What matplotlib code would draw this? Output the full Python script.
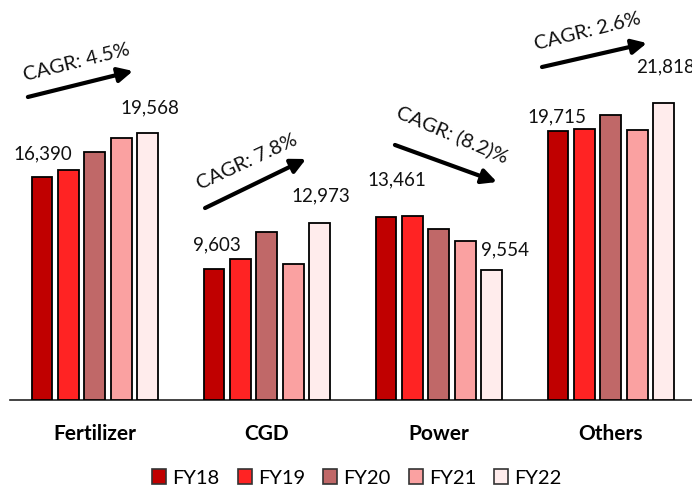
import matplotlib
matplotlib.use("Agg")
import matplotlib.pyplot as plt
import matplotlib.patches as mpatches
import numpy as np

# ── Data ──────────────────────────────────────────────────────────────────────
CATEGORIES = ["Fertilizer", "CGD", "Power", "Others"]
YEARS = ["FY18", "FY19", "FY20", "FY21", "FY22"]

VALUES = {
    "FY18": [16390, 9603, 13461, 19715],
    "FY19": [16880, 10370, 13530, 19890],
    "FY20": [18230, 12310, 12580, 20900],
    "FY21": [19250, 9960, 11700, 19800],
    "FY22": [19568, 12973, 9554, 21818],
}

CAGR_TEXT = ["CAGR: 4.5%", "CAGR: 7.8%", "CAGR: (8.2)%", "CAGR: 2.6%"]

# ── Style ─────────────────────────────────────────────────────────────────────
COLORS = ["#C00000", "#FF2323", "#C06868", "#FAA1A1", "#FFECEC"]
FONT = "Lato"
plt.rcParams["font.family"] = [FONT, "DejaVu Sans"]

BAR_W = 0.122
STEP = 0.154

# label offsets (pixels) for first / last bar of each category
OFF_FIRST = [(1, 23), (3, 24), (11, 37), (-1, 15)]
OFF_LAST = [(2, 26), (1, 27), (13, 20), (2, 36)]

# arrows (tail, head) and text anchors in data coords
ARROWS = [((-0.39, 22240), (0.221, 24150)),
          ((0.64, 14090), (1.227, 17690)),
          ((1.744, 18720), (2.337, 16000)),
          ((2.599, 24440), (3.209, 26200))]
CAGR_POS = [(-0.105, 24740, 14), (0.884, 17500, 25),
            (2.076, 19500, -23), (2.866, 27050, 14)]

# ── Figure ────────────────────────────────────────────────────────────────────
fig = plt.figure(figsize=(6.92, 4.94), dpi=100)
fig.patch.set_facecolor("white")
ax = fig.add_axes([10 / 692, 94 / 494, 688 / 692, 400 / 494])

x = np.arange(len(CATEGORIES))
bars_by_year = []
for i, (yr, col) in enumerate(zip(YEARS, COLORS)):
    b = ax.bar(x + (i - 2) * STEP, VALUES[yr], width=BAR_W, color=col,
               edgecolor="black", linewidth=1.3, label=yr, zorder=3)
    bars_by_year.append(b)

for j in range(len(CATEGORIES)):
    for b, off in ((bars_by_year[0][j], OFF_FIRST[j]), (bars_by_year[-1][j], OFF_LAST[j])):
        ax.annotate(f"{b.get_height():,.0f}",
                    (b.get_x() + b.get_width() / 2, b.get_height()),
                    xytext=off, textcoords="offset pixels",
                    ha="center", va="center", fontsize=13.5, color="#111111")

for (tail, head), (tx, ty, rot), txt in zip(ARROWS, CAGR_POS, CAGR_TEXT):
    ax.annotate("", xy=head, xytext=tail,
                arrowprops=dict(arrowstyle="-|>", color="black", lw=3,
                                mutation_scale=22, shrinkA=0, shrinkB=0))
    ax.text(tx, ty, txt, rotation=rot, ha="center", va="center",
            fontsize=14.5, color="#111111", rotation_mode="anchor")

ax.set_xlim(-0.494, 3.506)
ax.set_ylim(0, 29360)
ax.set_yticks([])
ax.set_xticks(x)
ax.set_xticklabels(CATEGORIES, fontsize=15, fontweight="bold")
ax.tick_params(axis="x", length=0, pad=17)
for s in ["top", "right", "left"]:
    ax.spines[s].set_visible(False)
ax.spines["bottom"].set_linewidth(1.2)
ax.spines["bottom"].set_color("#222222")

handles = [mpatches.Patch(facecolor=c, edgecolor="#333333", linewidth=1.2, label=y)
           for c, y in zip(COLORS, YEARS)]
fig.legend(handles=handles, loc="center", bbox_to_anchor=(357 / 692, 16 / 494),
           ncol=5, frameon=False, fontsize=14.5, handlelength=0.7,
           handleheight=0.7, handletextpad=0.3, columnspacing=0.9)

fig.savefig("out.png", dpi=100, facecolor="white")
